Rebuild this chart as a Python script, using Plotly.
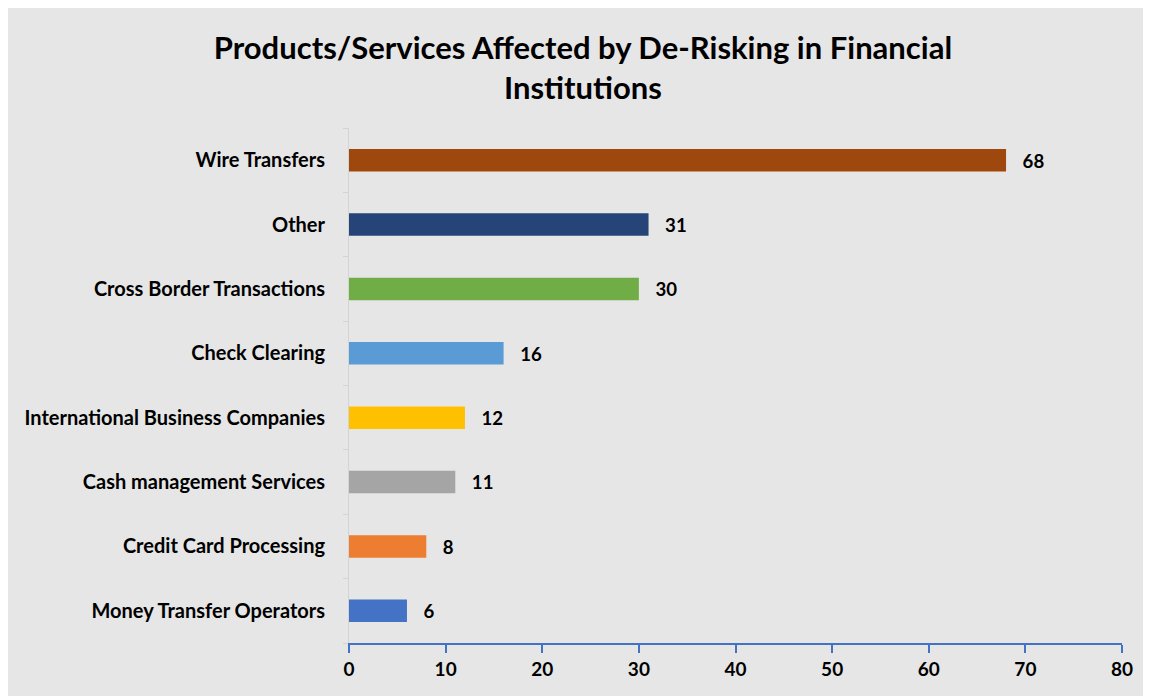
import plotly.graph_objects as go

categories = ["Money Transfer Operators", "Credit Card Processing", "Cash management Services",
              "International Business Companies", "Check Clearing", "Cross Border Transactions",
              "Other", "Wire Transfers"]
values = [6, 8, 11, 12, 16, 30, 31, 68]
colors = ["#4472C4", "#ED7D31", "#A5A5A5", "#FFC000", "#5B9BD5", "#70AD47", "#264478", "#9E480E"]
x_ticks = [0, 10, 20, 30, 40, 50, 60, 70, 80]

FONT = "Lato"
NB = "\u00a0"

fig = go.Figure(go.Bar(
    y=categories, x=values, orientation="h",
    marker=dict(color=colors, line=dict(width=0)),
    width=0.35,
    text=[NB * 3 + str(v) for v in values], textposition="outside",
    textfont=dict(family=FONT, size=19, color="#000000", weight="bold"),
    cliponaxis=False,
))

fig.update_layout(
    width=1143, height=688,
    paper_bgcolor="#E6E6E6", plot_bgcolor="#E6E6E6",
    margin=dict(l=341, r=29, t=120, b=53),
    title=dict(text="<b>Products/Services Affected by De-Risking in Financial<br>Institutions</b>",
               x=0.503, xanchor="center", y=0.926, yanchor="top",
               font=dict(family=FONT, size=31, color="#000000", lineposition="none"), automargin=False),
    font=dict(family=FONT, color="#000000"),
    showlegend=False,
)
fig.update_xaxes(range=[0, 80], tickvals=x_ticks, showgrid=False, zeroline=False,
                 showline=True, linecolor="#4472C4", linewidth=2,
                 ticks="outside", ticklen=8, tickcolor="#4472C4", tickwidth=2,
                 tickfont=dict(family=FONT, size=19, color="#000000", weight="bold"))
fig.update_yaxes(showgrid=False, zeroline=False, showline=True, linecolor="#D4D4D4", linewidth=1,
                 ticks="outside", tickson="boundaries", ticklen=5, tickcolor="#D4D4D4",
                 ticklabelstandoff=19,
                 tickfont=dict(family=FONT, size=20, color="#000000", weight="bold"))

fig.write_html("out.html")
